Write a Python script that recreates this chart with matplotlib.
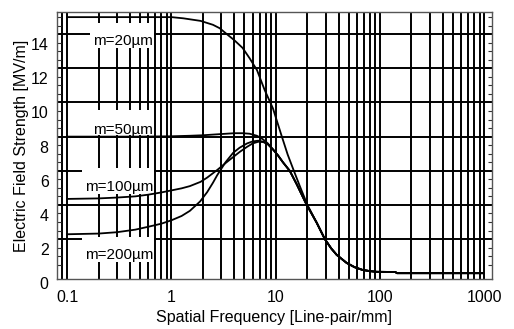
import matplotlib
matplotlib.use("Agg")
import matplotlib.pyplot as plt
import matplotlib.transforms as mtransforms
from matplotlib.patches import Rectangle
from matplotlib.ticker import LogLocator, MultipleLocator, NullFormatter

plt.rcParams['font.family'] = ['Liberation Sans', 'DejaVu Sans']

# values
x_ticks = [0.1, 1, 10, 100, 1000]
x_tick_labels = ["0.1", "1", "10", "100", "1000"]
y_ticks = [0, 2, 4, 6, 8, 10, 12, 14]

# shared roll-off tail (all curves meet above ~20 line-pair/mm)
tail_x = [24.7, 29.5, 34, 38.4, 47.8, 57, 68, 80, 92.6, 140, 145, 950]
tail_y = [2.95, 2.0, 1.45, 1.07, 0.6, 0.35, 0.19, 0.12, 0.08, 0.07, 0.0, 0.0]

m20_x = [0.1, 0.5, 1.0, 1.3, 1.9, 2.5, 2.9, 3.4, 4.0, 4.8, 5.6, 6.6, 7.8, 9.4,
         11.3, 13.0, 14.9, 17.0, 20.1] + tail_x
m20_y = [15.0, 15.0, 15.0, 14.93, 14.78, 14.55, 14.35, 14.0, 13.65, 13.2, 12.6,
         11.9, 10.75, 9.65, 8.1, 6.95, 6.0, 5.1, 4.0] + tail_y

m50_x = [0.1, 0.5, 1.0, 1.5, 2.0, 3.0, 4.0, 4.8, 5.6, 6.6, 7.5, 8.4, 9.4, 10.5,
         11.7, 13.6, 15.9, 19.6] + tail_x
m50_y = [8.0, 8.0, 8.02, 8.05, 8.08, 8.15, 8.2, 8.2, 8.17, 8.05, 7.85, 7.6, 7.25,
         6.9, 6.5, 6.0, 5.2, 4.05] + tail_y

m100_x = [0.1, 0.2, 0.3, 0.45, 0.6, 0.8, 1.0, 1.25, 1.5, 1.9, 2.2, 2.75, 3.3, 3.9,
          4.5, 5.3, 6.0, 6.8, 7.6, 8.4, 9.4, 10.5, 11.7, 13.6, 15.9, 19.6] + tail_x
m100_y = [4.35, 4.38, 4.43, 4.5, 4.6, 4.73, 4.85, 4.97, 5.1, 5.35, 5.6, 6.05, 6.45,
          6.8, 7.1, 7.4, 7.6, 7.7, 7.68, 7.55, 7.25, 6.9, 6.5, 6.0, 5.2, 4.05] + tail_y

m200_x = [0.1, 0.2, 0.3, 0.45, 0.6, 0.8, 1.0, 1.25, 1.5, 1.88, 2.2, 2.5, 2.75, 3.3,
          3.9, 4.5, 5.3, 6.0, 6.8, 7.6, 8.4, 9.4, 10.5, 11.7, 13.6, 15.9, 19.6] + tail_x
m200_y = [2.28, 2.32, 2.4, 2.55, 2.72, 2.9, 3.1, 3.35, 3.65, 4.2, 4.75, 5.3, 5.75,
          6.5, 7.05, 7.35, 7.6, 7.72, 7.76, 7.7, 7.55, 7.25, 6.9, 6.5, 6.0, 5.2,
          4.05] + tail_y

series = [(m20_x, m20_y), (m50_x, m50_y), (m100_x, m100_y), (m200_x, m200_y)]
labels = ["m=20µm", "m=50µm", "m=100µm", "m=200µm"]
label_y = [13.6, 8.38, 5.05, 1.07]
# white patches behind the labels that hide the grid (x0, x1, y0, y1)
label_boxes = [(0.166, 0.675, 13.2, 14.65), (0.166, 0.675, 8.1, 9.55),
               (0.139, 0.675, 4.64, 6.16), (0.139, 0.675, 0.66, 2.12)]

fig = plt.figure(figsize=(5.14, 3.29), dpi=100)
ax = fig.add_axes([0.111, 0.151, 0.846, 0.8125])

ax.set_xscale('log')
ax.set_xlim(0.08, 1180)
ax.set_ylim(-0.36, 15.3)

# grid: every decade step on x, every 2 on y (none at 0)
ax.xaxis.set_major_locator(LogLocator(base=10, numticks=10))
ax.xaxis.set_minor_locator(LogLocator(base=10, subs=range(2, 10), numticks=20))
ax.xaxis.set_minor_formatter(NullFormatter())
ax.set_xticks(x_ticks)
ax.set_xticklabels(x_tick_labels)
ax.set_yticks(y_ticks)
ax.yaxis.set_minor_locator(MultipleLocator(0.5))
ax.grid(True, which='both', axis='x', color='black', lw=1.4, zorder=1)
ax.grid(True, which='major', axis='y', color='black', lw=1.4, zorder=1)
ax.get_ygridlines()[0].set_visible(False)
ax.set_axisbelow(True)

ax.tick_params(axis='both', which='major', length=0, labelsize=11.5)
ax.tick_params(axis='x', which='major', pad=8)
ax.tick_params(axis='y', which='major', pad=6)
ax.tick_params(axis='x', which='minor', length=0)
ax.tick_params(axis='y', which='minor', direction='in', length=3, width=0.8,
               left=True, right=True, color='#333333')

# the y tick numbers sit a little below their grid lines in the original
shift = mtransforms.ScaledTranslation(0, -10 / 100, fig.dpi_scale_trans)
for lab in ax.get_yticklabels():
    lab.set_transform(lab.get_transform() + shift)

for sp in ax.spines.values():
    sp.set_color('#555555')
    sp.set_linewidth(1.0)

for (x0, x1, y0, y1) in label_boxes:
    ax.add_patch(Rectangle((x0, y0), x1 - x0, y1 - y0, facecolor='white',
                           edgecolor='none', zorder=2))

for (xs, ys) in series:
    ax.plot(xs, ys, color='black', lw=1.3, zorder=3)

for text, ty in zip(labels, label_y):
    ax.text(0.67, ty, text, ha='right', va='center', fontsize=11, zorder=4)

ax.set_xlabel("Spatial Frequency [Line-pair/mm]", fontsize=11.5, labelpad=3)
ax.set_ylabel("Electric Field Strength [MV/m]", fontsize=11.5, labelpad=1)

fig.savefig("out.png", dpi=100)
